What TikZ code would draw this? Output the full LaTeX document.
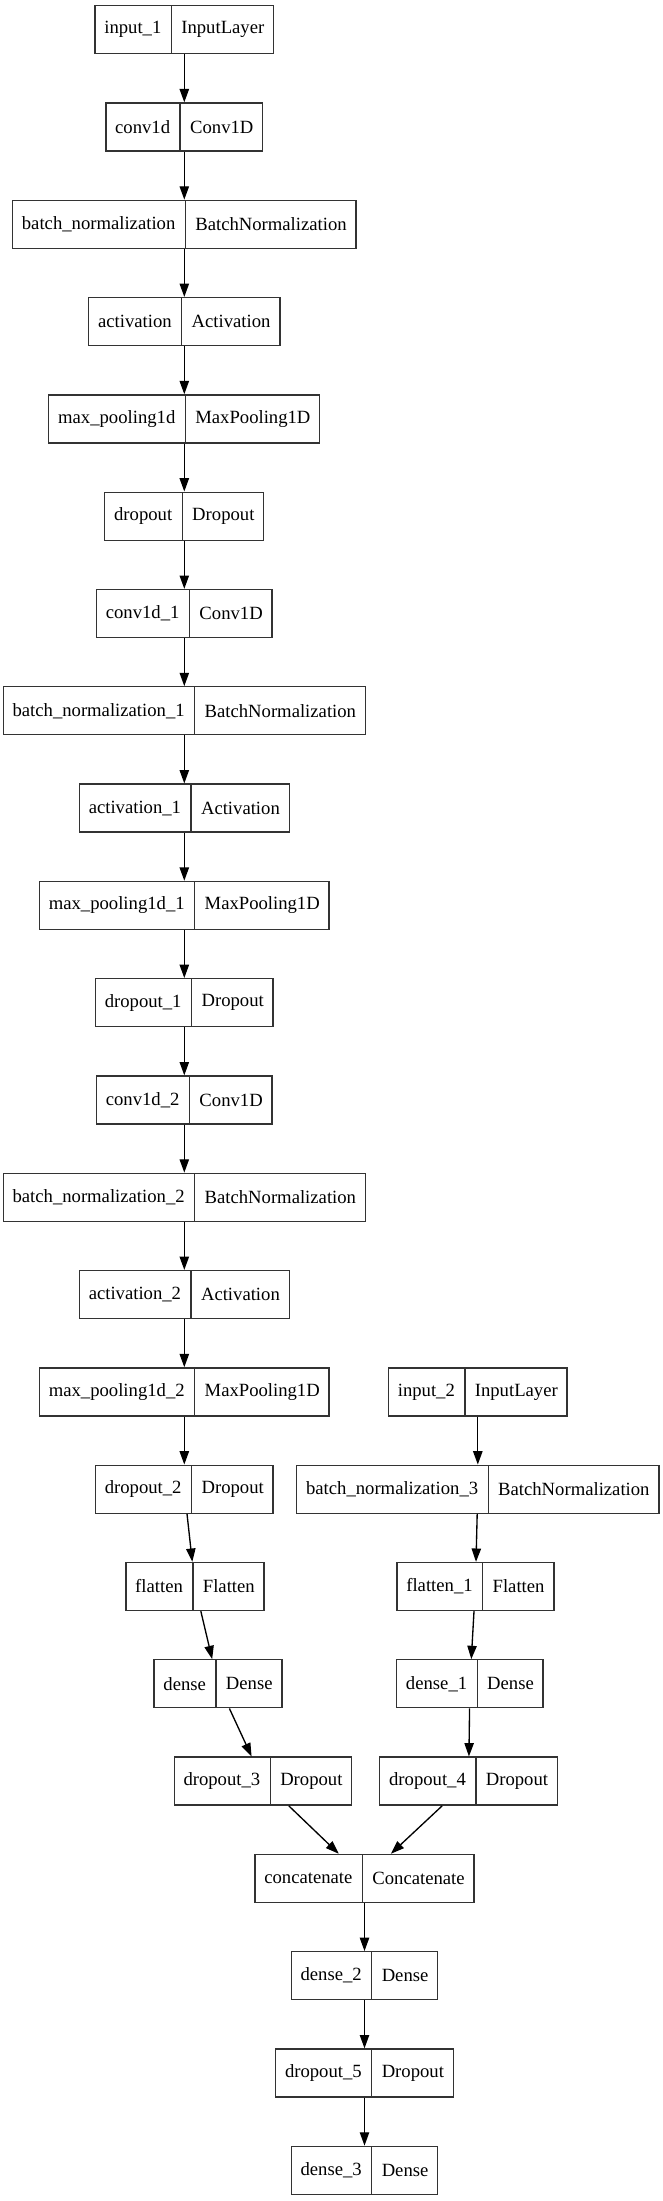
\documentclass[tikz,border=0pt]{standalone}
\usepackage{fontspec}
\setmainfont{Liberation Serif}
\usetikzlibrary{arrows.meta,shapes.multipart}

\begin{document}
\begin{tikzpicture}[
    x=0.75pt, y=-0.75pt,
    layer/.style={
        rectangle split, rectangle split horizontal, rectangle split parts=2,
        draw=black!80, line width=1pt, inner xsep=7pt, inner ysep=0pt,
        minimum height=36pt, font=\fontsize{14pt}{16pt}\selectfont
    },
    arrow/.style={-{Triangle[length=10pt,width=7pt]}, line width=1pt}
]
\useasboundingbox (0,0) rectangle (663,2201);

% First branch
\node[layer] (input1) at (184.3, 29.7) {input\_1 \nodepart{two} InputLayer};
\node[layer] (conv1d) at (184.3, 127) {conv1d \nodepart{two} Conv1D};
\node[layer] (bnorm) at (184.3, 224.3) {batch\_normalization \nodepart{two} BatchNormalization};
\node[layer] (act) at (184.3, 321.6) {activation \nodepart{two} Activation};
\node[layer] (maxpool) at (184.3, 418.9) {max\_pooling1d \nodepart{two} MaxPooling1D};
\node[layer] (drop) at (184.3, 516.2) {dropout \nodepart{two} Dropout};
\node[layer] (conv1d1) at (184.3, 613.5) {conv1d\_1 \nodepart{two} Conv1D};
\node[layer] (bnorm1) at (184.3, 710.8) {batch\_normalization\_1 \nodepart{two} BatchNormalization};
\node[layer] (act1) at (184.3, 808.1) {activation\_1 \nodepart{two} Activation};
\node[layer] (maxpool1) at (184.3, 905.4) {max\_pooling1d\_1 \nodepart{two} MaxPooling1D};
\node[layer] (drop1) at (184.3, 1002.7) {dropout\_1 \nodepart{two} Dropout};
\node[layer] (conv1d2) at (184.3, 1100) {conv1d\_2 \nodepart{two} Conv1D};
\node[layer] (bnorm2) at (184.3, 1197.3) {batch\_normalization\_2 \nodepart{two} BatchNormalization};
\node[layer] (act2) at (184.3, 1294.6) {activation\_2 \nodepart{two} Activation};
\node[layer] (maxpool2) at (184.3, 1391.9) {max\_pooling1d\_2 \nodepart{two} MaxPooling1D};
\node[layer] (drop2) at (184.3, 1489.2) {dropout\_2 \nodepart{two} Dropout};
\node[layer] (flat) at (195, 1586.5) {flatten \nodepart{two} Flatten};
\node[layer] (dense) at (218, 1683.8) {dense \nodepart{two} Dense};
\node[layer] (drop3) at (263, 1781.1) {dropout\_3 \nodepart{two} Dropout};

% Second branch
\node[layer] (input2) at (477.8, 1391.9) {input\_2 \nodepart{two} InputLayer};
\node[layer] (bnorm3) at (477.8, 1489.2) {batch\_normalization\_3 \nodepart{two} BatchNormalization};
\node[layer] (flat1) at (475.4, 1586.5) {flatten\_1 \nodepart{two} Flatten};
\node[layer] (dense1) at (469.9, 1683.8) {dense\_1 \nodepart{two} Dense};
\node[layer] (drop4) at (468.6, 1781.1) {dropout\_4 \nodepart{two} Dropout};

% Merged head
\node[layer] (concat) at (364.5, 1878.4) {concatenate \nodepart{two} Concatenate};
\node[layer] (dense2) at (364.5, 1975.7) {dense\_2 \nodepart{two} Dense};
\node[layer] (drop5) at (364.5, 2073) {dropout\_5 \nodepart{two} Dropout};
\node[layer] (dense3) at (364.5, 2170.3) {dense\_3 \nodepart{two} Dense};

% Arrows
\draw[arrow] (input1) -- (conv1d);
\draw[arrow] (conv1d) -- (bnorm);
\draw[arrow] (bnorm) -- (act);
\draw[arrow] (act) -- (maxpool);
\draw[arrow] (maxpool) -- (drop);
\draw[arrow] (drop) -- (conv1d1);
\draw[arrow] (conv1d1) -- (bnorm1);
\draw[arrow] (bnorm1) -- (act1);
\draw[arrow] (act1) -- (maxpool1);
\draw[arrow] (maxpool1) -- (drop1);
\draw[arrow] (drop1) -- (conv1d2);
\draw[arrow] (conv1d2) -- (bnorm2);
\draw[arrow] (bnorm2) -- (act2);
\draw[arrow] (act2) -- (maxpool2);
\draw[arrow] (maxpool2) -- (drop2);
\draw[arrow] (drop2) -- (flat);
\draw[arrow] (flat) -- (dense);
\draw[arrow] (dense) -- (drop3);

\draw[arrow] (input2) -- (bnorm3);
\draw[arrow] (bnorm3) -- (flat1);
\draw[arrow] (flat1) -- (dense1);
\draw[arrow] (dense1) -- (drop4);

\draw[arrow] (drop3) -- (concat);
\draw[arrow] (drop4) -- (concat);
\draw[arrow] (concat) -- (dense2);
\draw[arrow] (dense2) -- (drop5);
\draw[arrow] (drop5) -- (dense3);

\end{tikzpicture}
\end{document}
